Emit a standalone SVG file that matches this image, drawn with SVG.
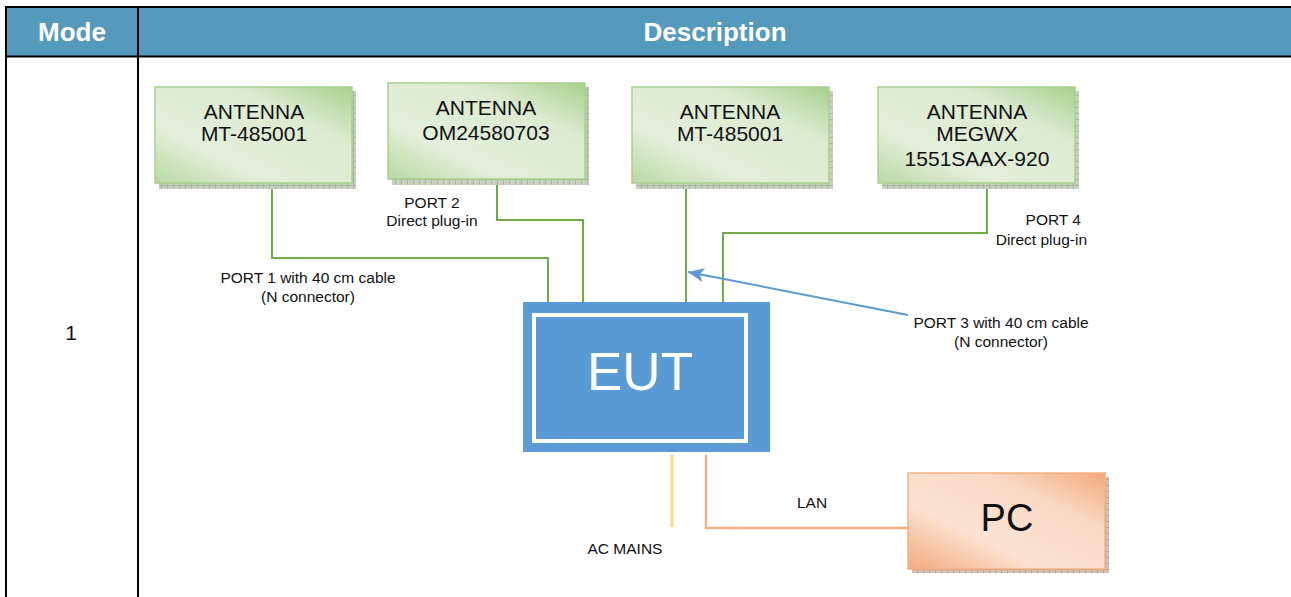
<svg xmlns="http://www.w3.org/2000/svg" width="1291" height="597" viewBox="0 0 1291 597">
<style>
text{font-family:"Liberation Sans",Arial,sans-serif;fill:#111}
.hdr{fill:#fff;font-weight:bold;font-size:26px}
.ant{font-size:21px}
.lbl{font-size:15.5px}
.g{stroke:#70ad47;stroke-width:2;fill:none}
</style>
<defs>
<linearGradient id="gg" x1="0" y1="1" x2="1" y2="0">
<stop offset="0" stop-color="#b9d9a2"/>
<stop offset="0.3" stop-color="#e3efda"/>
<stop offset="0.7" stop-color="#dcebd1"/>
<stop offset="1" stop-color="#a9d18e"/>
</linearGradient>
<linearGradient id="og" x1="0" y1="1" x2="1" y2="0">
<stop offset="0" stop-color="#f2ab7c"/>
<stop offset="0.35" stop-color="#fbe3d4"/>
<stop offset="0.7" stop-color="#f9d9c4"/>
<stop offset="1" stop-color="#f2aa7a"/>
</linearGradient>
<pattern id="hatch" width="6" height="6" patternUnits="userSpaceOnUse">
<rect width="6" height="6" fill="#a8b8a0"/>
<rect x="0" y="0" width="5" height="5" fill="#c8d0c0"/>
</pattern>
<pattern id="hatcho" width="6" height="6" patternUnits="userSpaceOnUse">
<rect width="6" height="6" fill="#b8a090"/>
<rect x="0" y="0" width="5" height="5" fill="#d8c0b0"/>
</pattern>
<marker id="arr" markerWidth="18" markerHeight="16" refX="16" refY="7" orient="auto" markerUnits="userSpaceOnUse">
<path d="M0,0 L16,7 L0,14 L4,7 Z" fill="#5b9bd5"/>
</marker>
</defs>
<rect width="1291" height="597" fill="#fff"/>
<g id="table">
<rect x="6" y="7" width="1290" height="49" fill="#5599bd"/>
<line x1="6" y1="7" x2="1291" y2="7" stroke="#000" stroke-width="2"/>
<line x1="6" y1="56.5" x2="1291" y2="56.5" stroke="#000" stroke-width="2"/>
<line x1="6" y1="6" x2="6" y2="597" stroke="#000" stroke-width="2"/>
<line x1="138" y1="6" x2="138" y2="597" stroke="#000" stroke-width="2"/>
<text class="hdr" x="72" y="41" text-anchor="middle">Mode</text>
<text class="hdr" x="715" y="41" text-anchor="middle">Description</text>
<text x="71" y="340" text-anchor="middle" font-size="21">1</text>
</g>
<g id="connectors">
<polyline class="g" points="272,188 272,258 548,258 548,302"/>
<polyline class="g" points="497,185 497,220 583,220 583,302"/>
<polyline class="g" points="686,188 686,302"/>
<polyline class="g" points="987,188 987,233 723,233 723,302"/>
<line x1="672" y1="455" x2="672" y2="527" stroke="#ffd966" stroke-width="2.5"/>
<polyline points="706,455 706,528 908,528" stroke="#f4b183" stroke-width="2.5" fill="none"/>
<line x1="908" y1="315" x2="688" y2="272" stroke="#5b9bd5" stroke-width="2" marker-end="url(#arr)"/>
<text class="lbl" x="432" y="208" text-anchor="middle">PORT 2</text>
<text class="lbl" x="432" y="226" text-anchor="middle">Direct plug-in</text>
<text class="lbl" x="308" y="283" text-anchor="middle">PORT 1 with 40 cm cable</text>
<text class="lbl" x="308" y="302" text-anchor="middle">(N connector)</text>
<text class="lbl" x="1081" y="225" text-anchor="end">PORT 4</text>
<text class="lbl" x="1087" y="245" text-anchor="end">Direct plug-in</text>
<text class="lbl" x="1001" y="328" text-anchor="middle">PORT 3 with 40 cm cable</text>
<text class="lbl" x="1001" y="347" text-anchor="middle">(N connector)</text>
<text class="lbl" x="812" y="508" text-anchor="middle">LAN</text>
<text class="lbl" x="625" y="554" text-anchor="middle">AC MAINS</text>
</g>
<g id="ant1">
<rect x="159" y="91" width="197" height="98" fill="url(#hatch)"/>
<rect x="155" y="87" width="197" height="96" fill="url(#gg)" stroke="#a9d18e" stroke-width="1.5"/>
<text class="ant" x="254" y="119" text-anchor="middle">ANTENNA</text>
<text class="ant" x="254" y="141" text-anchor="middle">MT-485001</text>
</g>
<g id="ant2">
<rect x="392" y="87" width="197" height="98" fill="url(#hatch)"/>
<rect x="388" y="83" width="197" height="96" fill="url(#gg)" stroke="#a9d18e" stroke-width="1.5"/>
<text class="ant" x="486" y="115" text-anchor="middle">ANTENNA</text>
<text class="ant" x="486" y="140" text-anchor="middle">OM24580703</text>
</g>
<g id="ant3">
<rect x="636" y="91" width="197" height="98" fill="url(#hatch)"/>
<rect x="632" y="87" width="197" height="96" fill="url(#gg)" stroke="#a9d18e" stroke-width="1.5"/>
<text class="ant" x="730" y="119" text-anchor="middle">ANTENNA</text>
<text class="ant" x="730" y="141" text-anchor="middle">MT-485001</text>
</g>
<g id="ant4">
<rect x="882" y="91" width="197" height="98" fill="url(#hatch)"/>
<rect x="878" y="87" width="197" height="96" fill="url(#gg)" stroke="#a9d18e" stroke-width="1.5"/>
<text class="ant" x="977" y="119" text-anchor="middle">ANTENNA</text>
<text class="ant" x="977" y="141" text-anchor="middle">MEGWX</text>
<text class="ant" x="977" y="166" text-anchor="middle">1551SAAX-920</text>
</g>
<g id="eut">
<rect x="523" y="302" width="247" height="150" fill="#5b9bd5"/>
<rect x="534" y="315" width="212" height="126" fill="none" stroke="#fff" stroke-width="4"/>
<text x="640" y="390" text-anchor="middle" font-size="53" style="fill:#fff">EUT</text>
</g>
<g id="pc">
<rect x="912" y="477" width="197" height="96" fill="url(#hatcho)"/>
<rect x="908" y="473" width="197" height="96" fill="url(#og)" stroke="#f4b183" stroke-width="1.5"/>
<text x="1007" y="531" text-anchor="middle" font-size="38">PC</text>
</g>
</svg>
